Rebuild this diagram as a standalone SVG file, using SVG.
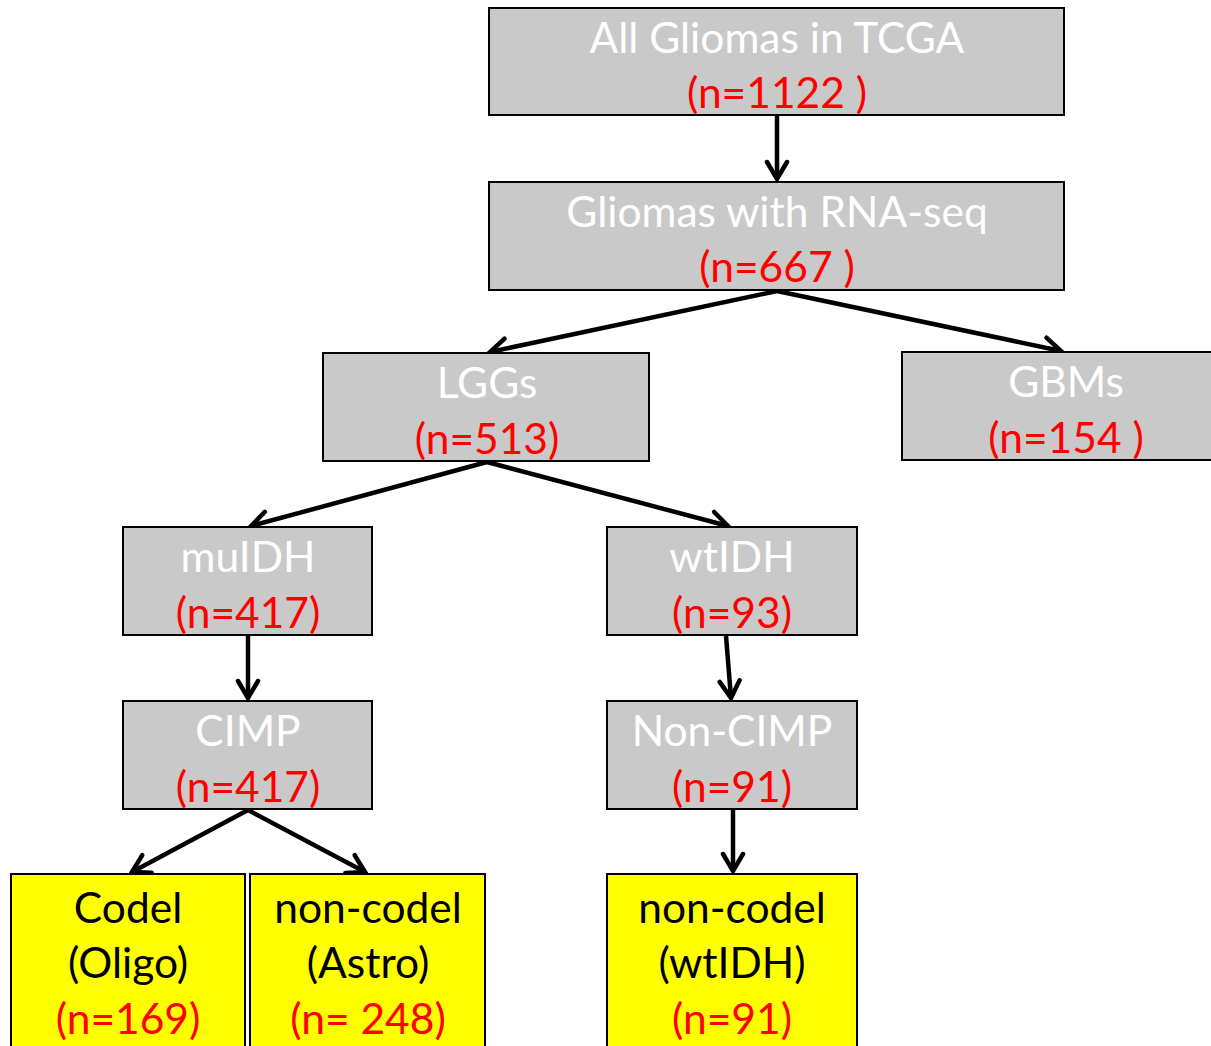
<svg xmlns="http://www.w3.org/2000/svg" width="1211" height="1046" viewBox="0 0 1211 1046">
<style>
.box{fill:#c9c9c9;stroke:#000;stroke-width:2}
.ybox{fill:#ffff00;stroke:#000;stroke-width:2}
text{font-family:Lato,"Liberation Sans",sans-serif;font-size:42.5px;text-anchor:middle}
.w{fill:#fff}
.r{fill:#ff0000}
.k{fill:#000}
.c{stroke:#000;stroke-width:4.5;fill:none;marker-end:url(#ah)}
</style>
<defs>
<marker id="ah" markerUnits="userSpaceOnUse" viewBox="-22 -14 25 28" refX="0" refY="0" markerWidth="25" markerHeight="28" orient="auto">
<path d="M-17,-10 L0,0 L-17,10" fill="none" stroke="#000" stroke-width="4.5" stroke-linecap="round" stroke-linejoin="miter"/>
</marker>
</defs>
<g id="connectors">
<line class="c" x1="777" y1="116" x2="777" y2="179"/>
<line class="c" x1="777" y1="291" x2="490" y2="352"/>
<line class="c" x1="777" y1="291" x2="1061" y2="351"/>
<line class="c" x1="487" y1="462" x2="251" y2="526"/>
<line class="c" x1="487" y1="462" x2="728" y2="526"/>
<line class="c" x1="248" y1="636" x2="248" y2="698"/>
<line class="c" x1="726" y1="636" x2="731" y2="698"/>
<line class="c" x1="248" y1="810" x2="132" y2="872"/>
<line class="c" x1="248" y1="810" x2="365" y2="872"/>
<line class="c" x1="733" y1="810" x2="733" y2="871"/>
</g>
<g id="all">
<rect class="box" x="489" y="8" width="575" height="107"/>
<text class="w" x="777" y="53">All Gliomas in TCGA</text>
<text class="r" x="777" y="108">(n=1122 )</text>
</g>
<g id="rnaseq">
<rect class="box" x="489" y="182" width="575" height="108"/>
<text class="w" x="777" y="227">Gliomas with RNA-seq</text>
<text class="r" x="777" y="282">(n=667 )</text>
</g>
<g id="lggs">
<rect class="box" x="323" y="353" width="326" height="108"/>
<text class="w" x="487" y="398">LGGs</text>
<text class="r" x="487" y="454">(n=513)</text>
</g>
<g id="gbms">
<rect class="box" x="902" y="352" width="312" height="108"/>
<text class="w" x="1066" y="397">GBMs</text>
<text class="r" x="1066" y="453">(n=154 )</text>
</g>
<g id="muidh">
<rect class="box" x="123" y="527" width="249" height="108"/>
<text class="w" x="248" y="572">muIDH</text>
<text class="r" x="248" y="628">(n=417)</text>
</g>
<g id="wtidh">
<rect class="box" x="607" y="527" width="250" height="108"/>
<text class="w" x="732" y="572">wtIDH</text>
<text class="r" x="732" y="628">(n=93)</text>
</g>
<g id="cimp">
<rect class="box" x="123" y="701" width="249" height="108"/>
<text class="w" x="248" y="746">CIMP</text>
<text class="r" x="248" y="802">(n=417)</text>
</g>
<g id="noncimp">
<rect class="box" x="607" y="701" width="250" height="108"/>
<text class="w" x="732" y="746">Non-CIMP</text>
<text class="r" x="732" y="802">(n=91)</text>
</g>
<g id="codel">
<rect class="ybox" x="11" y="874" width="234" height="180"/>
<text class="k" x="128" y="923">Codel</text>
<text class="k" x="128" y="978">(Oligo)</text>
<text class="r" x="128" y="1034">(n=169)</text>
</g>
<g id="noncodel-astro">
<rect class="ybox" x="250" y="874" width="235" height="180"/>
<text class="k" x="368" y="923">non-codel</text>
<text class="k" x="368" y="978">(Astro)</text>
<text class="r" x="368" y="1034">(n= 248)</text>
</g>
<g id="noncodel-wtidh">
<rect class="ybox" x="607" y="874" width="250" height="180"/>
<text class="k" x="732" y="923">non-codel</text>
<text class="k" x="732" y="978">(wtIDH)</text>
<text class="r" x="732" y="1034">(n=91)</text>
</g>
</svg>
